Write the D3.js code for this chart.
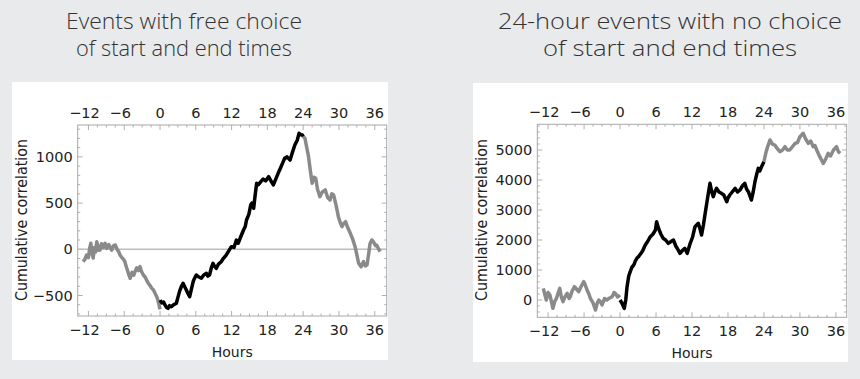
<!DOCTYPE html>
<html><head><meta charset="utf-8">
<script src="https://cdn.jsdelivr.net/npm/d3@7"></script>
<style>
html,body{margin:0;padding:0;background:#e9eaec;}
svg{display:block;}
</style></head>
<body>
<svg id="chart" width="860" height="379"></svg>
<script>
// ---------- DATA ----------
const titleLeft = ["Events with free choice", "of start and end times"];
const titleRight = ["24-hour events with no choice", "of start and end times"];
const xTicks = [-12, -6, 0, 6, 12, 18, 24, 30, 36];
const leftYTicks = [-500, 0, 500, 1000];
const rightYTicks = [0, 1000, 2000, 3000, 4000, 5000];

// Left chart: free choice
const leftPreHours = [-12.9,-12.6,-12.3,-12.0,-11.8,-11.6,-11.4,-11.2,-11.0,-10.8,-10.6,-10.3,-10.06,-9.8,-9.5,-9.2,-8.9,-8.6,-8.4,-8.1,-7.8,-7.5,-7.2,-6.9,-6.7,-6.4,-6.1,-5.9,-5.6,-5.3,-5.0,-4.7,-4.4,-4.2,-3.9,-3.6,-3.35,-3.1,-2.8,-2.5,-2.2,-1.96,-1.7,-1.4,-1.1,-0.8,-0.45,-0.2,0];
const leftPreValues = [-134,-110,-62,-90,10,65,-40,-94,20,-30,82,-10,-8,60,20,65,10,50,28,-10,40,46,0,-30,-62,-90,-110,-134,-200,-260,-314,-250,-280,-242,-200,-230,-188,-240,-278,-300,-340,-368,-390,-420,-440,-480,-530,-590,-650];
const leftMidHours = [0,0.3,0.6,0.9,1.1,1.34,1.6,1.9,2.3,2.74,3.0,3.3,3.6,3.86,4.1,4.41,4.7,4.97,5.3,5.6,5.9,6.1,6.5,6.93,7.3,7.77,8.0,8.3,8.6,8.88,9.1,9.44,9.8,10.28,10.6,11.1,11.5,11.96,12.4,12.8,13.1,13.5,14.0,14.3,14.5,14.9,15.2,15.4,15.7,15.9,16.2,16.5,16.9,17.3,17.7,18.2,18.6,19.0,19.4,19.8,20.2,20.6,20.9,21.3,21.8,22.2,22.6,23.0,23.3,23.6,23.86,24];
const leftMidValues = [-550,-580,-570,-610,-630,-639,-610,-621,-600,-584,-520,-450,-400,-368,-400,-440,-480,-513,-420,-340,-300,-278,-300,-314,-280,-260,-290,-278,-200,-152,-180,-206,-160,-134,-100,-62,-20,28,20,100,65,130,209,250,317,380,479,500,444,560,714,700,732,760,740,786,740,696,760,822,880,940,985,1000,966,1050,1129,1180,1255,1240,1237,1220];
const leftPostHours = [24,24.3,24.6,24.9,25.2,25.5,25.8,26.1,26.4,26.8,27.2,27.7,28.1,28.5,28.8,29.1,29.5,29.9,30.2,30.5,30.8,31.1,31.5,31.9,32.3,32.7,33.0,33.3,33.7,34.1,34.4,34.7,35.0,35.2,35.5,35.8,36.1,36.3,36.6,36.9];
const leftPostValues = [1220,1201,1100,1002,850,714,780,768,650,569,620,642,560,534,600,588,480,353,290,245,280,299,230,173,110,28,-60,-152,-190,-134,-180,-170,-40,60,101,80,40,46,10,-26];

// Right chart: 24-hour events
const rightPreHours = [-12.8,-12.5,-12.3,-12.0,-11.7,-11.4,-11.2,-10.9,-10.6,-10.3,-10.05,-9.8,-9.5,-9.2,-8.8,-8.5,-8.3,-8.0,-7.6,-7.2,-6.9,-6.5,-6.05,-5.8,-5.5,-5.2,-4.95,-4.5,-4.1,-3.8,-3.55,-3.3,-3.0,-2.6,-2.2,-1.8,-1.3,-1.0,-0.8,-0.4,0];
const rightPreValues = [389,150,0,250,167,-100,-278,-50,56,250,389,100,-56,100,222,50,111,300,444,350,278,450,611,500,333,200,56,-100,-333,-100,0,-50,-167,50,0,60,111,250,222,100,167];
const rightMidHours = [0,0.3,0.7,0.95,1.17,1.45,1.7,2.0,2.3,2.55,2.8,3.1,3.5,3.8,4.2,4.6,5.05,5.5,5.9,6.1,6.4,6.8,7.2,7.6,8.05,8.5,8.9,9.3,9.6,10.0,10.4,10.8,11.2,11.7,12.1,12.5,13.05,13.3,13.6,13.9,14.2,14.6,15.0,15.3,15.55,15.8,16.1,16.5,16.9,17.3,17.8,18.0,18.3,18.7,19.2,19.6,20.0,20.4,20.8,21.1,21.4,21.9,22.2,22.5,22.8,23.05,23.3,23.6,24];
const rightMidValues = [0,-100,-278,0,444,800,944,1100,1167,1300,1389,1450,1556,1650,1833,1950,2111,2200,2333,2611,2400,2200,2056,2000,1889,1950,2000,1800,1700,1556,1650,1722,1556,1889,2100,2444,2556,2400,2167,2500,2889,3400,3889,3600,3444,3600,3722,3600,3556,3500,3278,3400,3500,3600,3722,3600,3667,3800,3889,3700,3611,3333,3600,3944,4200,4389,4300,4444,4611];
const rightPostHours = [24,24.3,24.6,25.0,25.4,25.8,26.2,26.7,27.1,27.5,27.9,28.3,28.7,29.2,29.6,30.0,30.55,31.0,31.4,31.8,32.2,32.5,32.8,33.3,33.9,34.3,34.7,35.1,35.6,36.1,36.4,36.7];
const rightPostValues = [4611,4889,5100,5333,5200,5167,5050,4944,5000,5111,5000,5000,5100,5222,5250,5444,5556,5350,5222,5300,5111,5150,5000,4778,4556,4700,4889,4800,5000,5111,4950,4889];

// ---------- DRAW ----------
const svg = d3.select("#chart");
const FONT = "'DejaVu Sans', sans-serif";
const zip = (h, v) => h.map((d, i) => [d, v[i]]);

function titleBlock(lines, cx, widths) {
  lines.forEach((t, i) => {
    svg.append("text").attr("x", cx).attr("y", 29 + i * 27)
      .attr("text-anchor", "middle")
      .attr("font-family", "'Open Sans', sans-serif").attr("font-weight", 300)
      .attr("font-size", 22).attr("fill", "#333")
      .attr("textLength", widths[i]).attr("lengthAdjust", "spacingAndGlyphs")
      .text(t);
  });
}
titleBlock(titleLeft, 184, [236, 216]);
titleBlock(titleRight, 670, [344, 254]);

function panel(cfg) {
  svg.append("rect").attr("x", cfg.panel[0]).attr("y", cfg.panel[1])
    .attr("width", cfg.panel[2]).attr("height", cfg.panel[3]).attr("fill", "#fff");
  const x = d3.scaleLinear().domain(cfg.xDomain).range(cfg.xRange);
  const y = d3.scaleLinear().domain(cfg.yDomain).range(cfg.yRange);
  const [x0, x1] = cfg.xRange, [y1, y0] = cfg.yRange;
  const g = svg.append("g");

  // minor + major ticks (inside frame)
  const tickCol = "#b0b0b0";
  d3.range(-12, 37, 1.5).forEach(h => {
    const major = xTicks.includes(h);
    const L = major ? 5 : 2.5;
    g.append("line").attr("x1", x(h)).attr("x2", x(h)).attr("y1", y1).attr("y2", y1 - L).attr("stroke", tickCol);
    g.append("line").attr("x1", x(h)).attr("x2", x(h)).attr("y1", y0).attr("y2", y0 + L).attr("stroke", tickCol);
  });
  const step = cfg.yTicks[1] - cfg.yTicks[0];
  d3.range(Math.ceil(cfg.yDomain[0] / (step / 5)) * (step / 5), cfg.yDomain[1], step / 5).forEach(v => {
    const major = Math.abs(v % step) < 1e-6;
    const L = major ? 5 : 2.5;
    g.append("line").attr("x1", x0).attr("x2", x0 + L).attr("y1", y(v)).attr("y2", y(v)).attr("stroke", tickCol);
    g.append("line").attr("x1", x1).attr("x2", x1 - L).attr("y1", y(v)).attr("y2", y(v)).attr("stroke", tickCol);
  });

  if (cfg.zeroLine) {
    g.append("line").attr("x1", x0).attr("x2", x1).attr("y1", y(0)).attr("y2", y(0))
      .attr("stroke", "#bdbdbd").attr("stroke-width", 1.5);
  }

  const line = d3.line().x(d => x(d[0])).y(d => y(d[1]));
  cfg.series.forEach(s => {
    g.append("path").attr("d", line(s.data)).attr("fill", "none")
      .attr("stroke", s.color).attr("stroke-width", 3.5).attr("stroke-linejoin", "round");
  });

  g.append("rect").attr("x", x0).attr("y", y0).attr("width", x1 - x0).attr("height", y1 - y0)
    .attr("fill", "none").attr("stroke", "#a8a8a8").attr("stroke-width", 1);

  const fmt = v => (v < 0 ? "\u2212" : "") + Math.abs(v);
  xTicks.forEach(h => {
    [y0 - 7, y1 + 19].forEach(yy => {
      g.append("text").attr("x", x(h) - (h < 0 ? 4 : 0)).attr("y", yy)
        .attr("text-anchor", "middle").attr("font-family", FONT).attr("font-size", 14.5)
        .attr("fill", "#222").text(fmt(h));
    });
  });
  cfg.yTicks.forEach(v => {
    g.append("text").attr("x", x0 - 5).attr("y", y(v)).attr("dy", "0.35em")
      .attr("text-anchor", "end").attr("font-family", FONT).attr("font-size", 14.5)
      .attr("fill", "#222").text(fmt(v));
  });
  g.append("text").attr("x", (x0 + x1) / 2).attr("y", cfg.hoursY)
    .attr("text-anchor", "middle").attr("font-family", FONT).attr("font-size", 14)
    .attr("fill", "#222").text("Hours");
  g.append("text").attr("transform", `translate(${cfg.yTitleX},220) rotate(-90)`)
    .attr("text-anchor", "middle").attr("font-family", FONT).attr("font-size", 15)
    .attr("textLength", 162).attr("lengthAdjust", "spacingAndGlyphs")
    .attr("fill", "#222").text("Cumulative correlation");
}

panel({
  panel: [12, 82, 376, 278],
  xDomain: [-13.8, 38], xRange: [77.7, 386.7],
  yDomain: [-722, 1345], yRange: [316, 125],
  yTicks: leftYTicks, zeroLine: true, hoursY: 356.5, yTitleX: 27,
  series: [
    { data: zip(leftPreHours, leftPreValues), color: "#8a8a8a" },
    { data: zip(leftPostHours, leftPostValues), color: "#8a8a8a" },
    { data: zip(leftMidHours, leftMidValues), color: "#000" }
  ]
});
panel({
  panel: [473, 83, 375, 279],
  xDomain: [-13.8, 37.8], xRange: [537.3, 846.7],
  yDomain: [-577, 5857], yRange: [317.3, 124.3],
  yTicks: rightYTicks, zeroLine: false, hoursY: 357.5, yTitleX: 487,
  series: [
    { data: zip(rightPreHours, rightPreValues), color: "#8a8a8a" },
    { data: zip(rightPostHours, rightPostValues), color: "#8a8a8a" },
    { data: zip(rightMidHours, rightMidValues), color: "#000" }
  ]
});
</script>
</body></html>
